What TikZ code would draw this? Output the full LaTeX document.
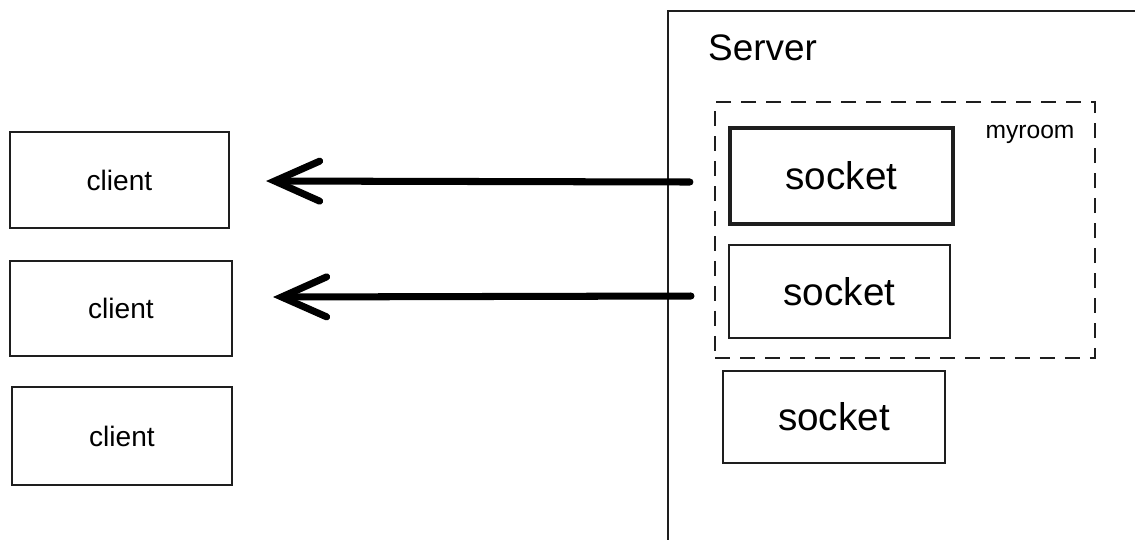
\documentclass[tikz,border=0pt]{standalone}
\usepackage{fontspec}
\setmainfont{Liberation Sans}
\usetikzlibrary{arrows.meta}
\definecolor{ink}{HTML}{1E1E1E}
\tikzset{
  box/.style={draw=ink, line width=1.2pt, inner sep=0pt, anchor=center},
  clientbox/.style={box, font=\fontsize{16}{18}\selectfont},
  socketbox/.style={box, font=\fontsize{22}{24}\selectfont},
  roombox/.style={draw=ink, line width=1.2pt, dash pattern=on 0.3cm off 0.2cm, inner sep=0pt},
  push/.style={draw=black, line width=4pt, line cap=round,
    -{Straight Barb[length=0.9cm, width=0.8cm, line cap=round]}},
}
\begin{document}
\begin{tikzpicture}[x=0.02cm, y=-0.02cm]
\useasboundingbox (0,0) rectangle (1135,539);
\fill[white] (0,0) rectangle (1135,539);

% clients
\node[clientbox, minimum width=4.38cm, minimum height=1.92cm] (c1) at (119.5,180) {client};
\node[clientbox, minimum width=4.44cm, minimum height=1.90cm] (c2) at (121,308.5) {client};
\node[clientbox, minimum width=4.40cm, minimum height=1.96cm] (c3) at (122,436) {client};

% server frame, running past the lower and right edges
\begin{scope}
\clip (0,0) rectangle (1135,539);
\node[box, minimum width=9.54cm, minimum height=10.76cm] (srv) at (906.5,280) {};
\end{scope}
\node[anchor=base west, font=\fontsize{21}{24}\selectfont] (srvlabel) at (702,60) {Server};

% room
\node[roombox, minimum width=7.6cm, minimum height=5.12cm] (room) at (905,230) {};
\node[font=\fontsize{14}{16}\selectfont] (roomlabel) at (1030,134) {myroom};

% sockets
\node[socketbox, line width=2.4pt, minimum width=4.46cm, minimum height=1.92cm] (s1) at (841.5,176) {socket};
\node[socketbox, minimum width=4.42cm, minimum height=1.86cm] (s2) at (839.5,291.5) {socket};
\node[socketbox, minimum width=4.44cm, minimum height=1.84cm] (s3) at (834,417) {socket};

% emits to the clients in the room
\draw[push] ([xshift=-0.76cm, yshift=-0.12cm]s1.west) -- ([xshift=0.72cm, yshift=-0.02cm]c1.east);
\draw[push] ([xshift=-0.74cm, yshift=-0.09cm]s2.west) -- ([xshift=0.8cm, yshift=0.23cm]c2.east);
\end{tikzpicture}
\end{document}
